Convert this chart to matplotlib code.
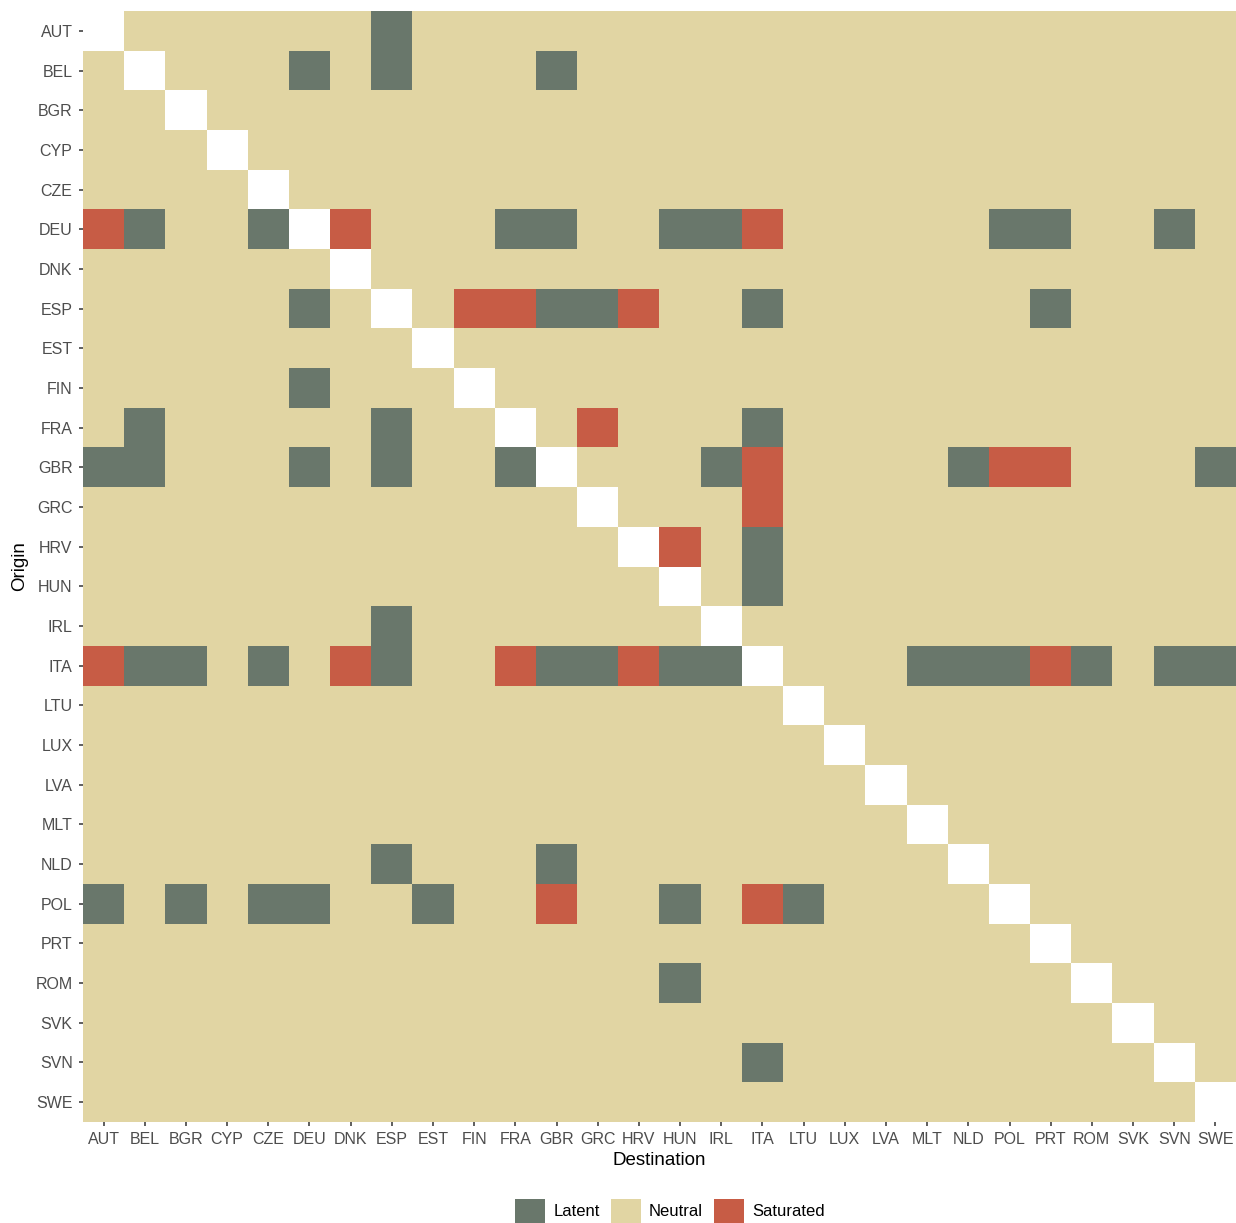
import numpy as np
import matplotlib
matplotlib.use("Agg")
import matplotlib.pyplot as plt
from matplotlib.colors import ListedColormap
from matplotlib.patches import Patch

plt.rcParams['font.family'] = ['Liberation Sans', 'DejaVu Sans']

countries = ["AUT", "BEL", "BGR", "CYP", "CZE", "DEU", "DNK", "ESP", "EST", "FIN",
             "FRA", "GBR", "GRC", "HRV", "HUN", "IRL", "ITA", "LTU", "LUX", "LVA",
             "MLT", "NLD", "POL", "PRT", "ROM", "SVK", "SVN", "SWE"]

# origin -> destinations
latent = {
    "AUT": ["ESP"],
    "BEL": ["DEU", "ESP", "GBR"],
    "DEU": ["BEL", "CZE", "FRA", "GBR", "HUN", "IRL", "POL", "PRT", "SVN"],
    "ESP": ["DEU", "GBR", "GRC", "ITA", "PRT"],
    "FIN": ["DEU"],
    "FRA": ["BEL", "ESP", "ITA"],
    "GBR": ["AUT", "BEL", "DEU", "ESP", "FRA", "IRL", "NLD", "SWE"],
    "HRV": ["ITA"],
    "HUN": ["ITA"],
    "IRL": ["ESP"],
    "ITA": ["BEL", "BGR", "CZE", "ESP", "GBR", "GRC", "HUN", "IRL", "MLT", "NLD",
            "POL", "ROM", "SVN", "SWE"],
    "NLD": ["ESP", "GBR"],
    "POL": ["AUT", "BGR", "CZE", "DEU", "EST", "HUN", "LTU"],
    "ROM": ["HUN"],
    "SVN": ["ITA"],
}
saturated = {
    "DEU": ["AUT", "DNK", "ITA"],
    "ESP": ["FIN", "FRA", "HRV"],
    "FRA": ["GRC"],
    "GBR": ["ITA", "POL", "PRT"],
    "GRC": ["ITA"],
    "HRV": ["HUN"],
    "ITA": ["AUT", "DNK", "FRA", "HRV", "PRT"],
    "POL": ["GBR", "ITA"],
}
states = ["Latent", "Neutral", "Saturated"]
state_colors = ["#69776B", "#E1D5A3", "#C75C45"]

n = len(countries)
idx = {c: i for i, c in enumerate(countries)}
grid = np.ones((n, n))
for o, ds in latent.items():
    for d in ds:
        grid[idx[o], idx[d]] = 0
for o, ds in saturated.items():
    for d in ds:
        grid[idx[o], idx[d]] = 2
for i in range(n):
    grid[i, i] = np.nan

W, H = 1236, 1223
fig = plt.figure(figsize=(W / 100, H / 100), dpi=100)
ax = fig.add_axes([83/W, 101/H, 1153/W, 1111/H])
cmap = ListedColormap(state_colors)
cmap.set_bad("white")
ax.pcolormesh(np.arange(n + 1) - 0.5, np.arange(n + 1) - 0.5,
              np.ma.masked_invalid(grid), cmap=cmap, vmin=-0.5, vmax=2.5)
ax.set_xlim(-0.5, n - 0.5)
ax.set_ylim(n - 0.5, -0.5)
ax.set_xticks(range(n))
ax.set_xticklabels(countries)
ax.set_yticks(range(n))
ax.set_yticklabels(countries)
for s in ax.spines.values():
    s.set_visible(False)
ax.tick_params(axis='both', labelsize=11.5, colors="#333333", labelcolor="#4D4D4D",
               length=3, width=1.1)
ax.tick_params(axis='x', pad=4.5)
ax.tick_params(axis='y', pad=4.5)
ax.set_xlabel("Destination", fontsize=13.5, labelpad=3.5)
ax.set_ylabel("Origin", fontsize=13.5, labelpad=5)

handles = [Patch(facecolor=c, edgecolor='none', label=l) for c, l in zip(state_colors, states)]
fig.legend(handles=handles, loc='upper center', bbox_to_anchor=(670/W, 1 - 1199/H), ncol=3,
           frameon=False, fontsize=12, handlelength=1.8, handleheight=1.8,
           columnspacing=0.66, handletextpad=0.5, borderpad=0, borderaxespad=0)

fig.savefig("out.png", dpi=100)
